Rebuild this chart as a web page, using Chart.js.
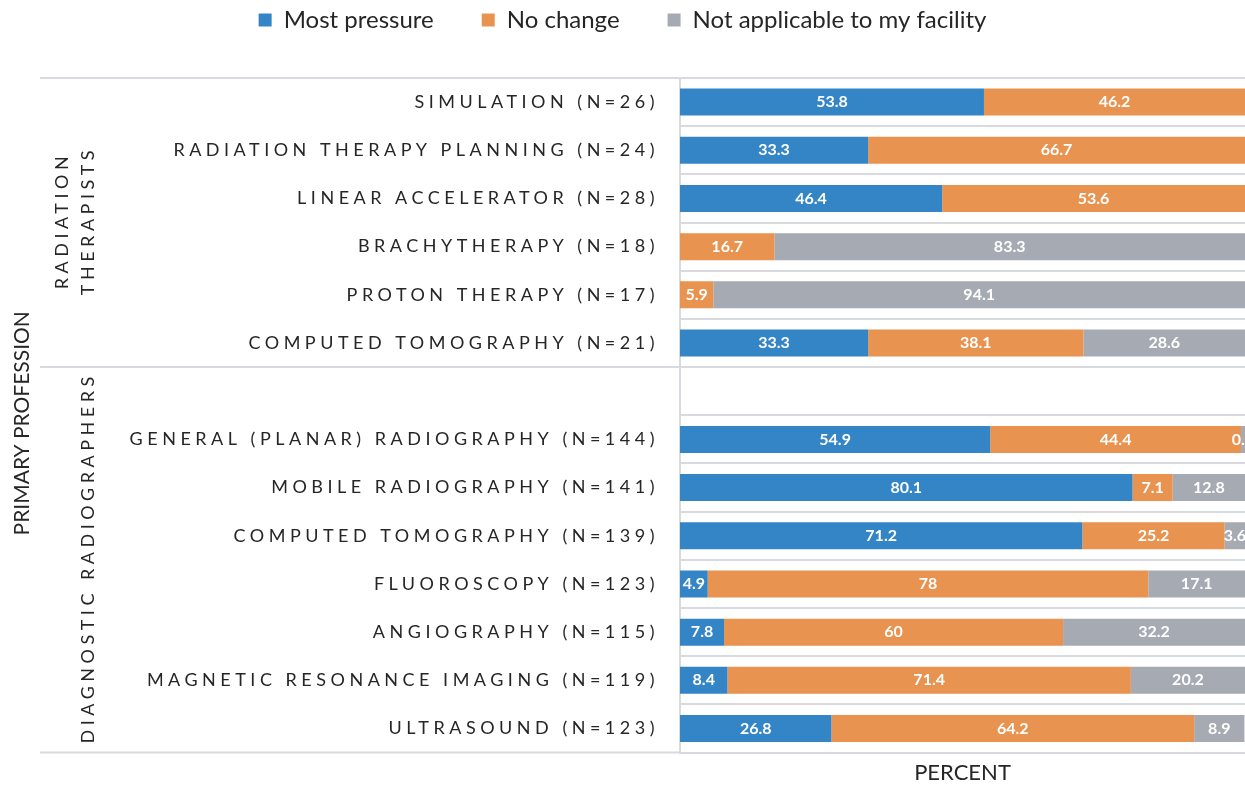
<!DOCTYPE html>
<html>
<head>
<meta charset="utf-8">
<script src="https://cdn.jsdelivr.net/npm/chart.js@4.4.1/dist/chart.umd.min.js"></script>
<style>
  html, body { margin: 0; padding: 0; background: #fff; }
  #wrap { width: 1245px; height: 786px; position: relative; }
</style>
</head>
<body>
<div id="wrap"><canvas id="myChart"></canvas></div>
<script>
const categories = [
  'SIMULATION (N=26)',
  'RADIATION THERAPY PLANNING (N=24)',
  'LINEAR ACCELERATOR (N=28)',
  'BRACHYTHERAPY (N=18)',
  'PROTON THERAPY (N=17)',
  'COMPUTED TOMOGRAPHY (N=21)',
  '',
  'GENERAL (PLANAR) RADIOGRAPHY (N=144)',
  'MOBILE RADIOGRAPHY (N=141)',
  'COMPUTED TOMOGRAPHY (N=139)',
  'FLUOROSCOPY (N=123)',
  'ANGIOGRAPHY (N=115)',
  'MAGNETIC RESONANCE IMAGING (N=119)',
  'ULTRASOUND (N=123)'
];
const mostPressure  = [53.8, 33.3, 46.4, 0, 0, 33.3, null, 54.9, 80.1, 71.2, 4.9, 7.8, 8.4, 26.8];
const noChange      = [46.2, 66.7, 53.6, 16.7, 5.9, 38.1, null, 44.4, 7.1, 25.2, 78, 60, 71.4, 64.2];
const notApplicable = [0, 0, 0, 83.3, 94.1, 28.6, null, 0.7, 12.8, 3.6, 17.1, 32.2, 20.2, 8.9];
const seriesNames = ['Most pressure', 'No change', 'Not applicable to my facility'];

// profession groups: first and last category index
const groupNames = [['RADIATION', 'THERAPISTS'], ['DIAGNOSTIC RADIOGRAPHERS']];
const groupFrom = [0, 6];
const groupTo = [5, 13];
const axisTitleY = 'PRIMARY PROFESSION';
const axisTitleX = 'PERCENT';

const colors = ['#3485c6', '#e8934f', '#a6abb3'];
const gridColor = '#d9dadf';
const textColor = '#262626';
const fontFamily = 'Lato, "Open Sans", sans-serif';

const decor = {
  id: 'decor',
  beforeLayout(chart) {
    // room between legend and plot
    const lg = chart.legend;
    if (lg && !lg._patched) {
      const fit = lg.fit;
      lg.fit = function () { fit.call(this); this.height = 78; };
      lg._patched = true;
    }
  },
  afterLayout(chart) {
    const lg = chart.legend;
    if (lg) { lg.top -= 40; lg.bottom -= 40; }
  },
  afterDatasetsDraw(chart) {
    const ctx = chart.ctx;
    ctx.save();
    ctx.font = 'bold 16px ' + fontFamily;
    ctx.fillStyle = '#fff';
    ctx.textAlign = 'center';
    ctx.textBaseline = 'middle';
    chart.data.datasets.forEach((ds, i) => {
      chart.getDatasetMeta(i).data.forEach((bar, j) => {
        const v = ds.data[j];
        if (!v) return;
        ctx.fillText(String(v), (bar.x + bar.base) / 2, bar.y);
      });
    });
    ctx.restore();
    // y tick labels are drawn after this (ticks.z = 1), spaced out
    ctx.letterSpacing = '4.5px';
  },
  afterDraw(chart) {
    const ctx = chart.ctx;
    ctx.letterSpacing = '0px';
    const ys = chart.scales.y;
    const area = chart.chartArea;
    const half = (ys.getPixelForValue(1) - ys.getPixelForValue(0)) / 2;
    const top = i => ys.getPixelForValue(i) - half;
    const bot = i => ys.getPixelForValue(i) + half;

    ctx.save();
    ctx.strokeStyle = gridColor;
    ctx.lineWidth = 2;
    [top(0), bot(groupTo[0]), bot(groupTo[1])].forEach(y => {
      ctx.beginPath();
      ctx.moveTo(40, y);
      ctx.lineTo(area.left, y);
      ctx.stroke();
    });

    ctx.fillStyle = textColor;
    ctx.textAlign = 'center';
    ctx.textBaseline = 'middle';
    ctx.font = '18px ' + fontFamily;
    ctx.letterSpacing = '4.5px';
    groupNames.forEach((lines, g) => {
      const cy = (top(groupFrom[g]) + bot(groupTo[g])) / 2;
      const xs = lines.length > 1 ? [62, 88] : [88];
      lines.forEach((t, k) => {
        ctx.save();
        ctx.translate(xs[k], cy);
        ctx.rotate(-Math.PI / 2);
        ctx.fillText(t, 2, 0);
        ctx.restore();
      });
    });

    ctx.letterSpacing = '0px';
    ctx.font = '21px ' + fontFamily;
    ctx.translate(22, (area.top + area.bottom) / 2 + 8);
    ctx.rotate(-Math.PI / 2);
    ctx.fillText(axisTitleY, 0, 0);
    ctx.restore();
  }
};

new Chart(document.getElementById('myChart').getContext('2d'), {
  type: 'bar',
  data: {
    labels: categories,
    datasets: [mostPressure, noChange, notApplicable].map((d, i) => ({
      label: seriesNames[i],
      data: d,
      backgroundColor: colors[i],
      borderWidth: 0,
      barPercentage: 0.56,
      categoryPercentage: 1
    }))
  },
  options: {
    indexAxis: 'y',
    responsive: true,
    maintainAspectRatio: false,
    animation: false,
    layout: { padding: 0 },
    scales: {
      x: {
        stacked: true,
        min: 0,
        max: 100,
        grid: { display: false, drawTicks: false },
        border: { display: false },
        ticks: { display: false },
        title: {
          display: true,
          text: axisTitleX,
          color: textColor,
          font: { family: fontFamily, size: 22 },
          padding: { top: 7, bottom: 0 }
        }
      },
      y: {
        stacked: true,
        afterFit(scale) { scale.width = 680; },
        grid: { color: gridColor, lineWidth: 2, drawTicks: false },
        border: { color: gridColor, width: 2 },
        ticks: {
          z: 1,
          autoSkip: false,
          padding: 21,
          color: textColor,
          font: { family: fontFamily, size: 18 }
        }
      }
    },
    plugins: {
      legend: {
        position: 'top',
        labels: {
          boxWidth: 13,
          boxHeight: 13,
          padding: 48,
          color: textColor,
          font: { family: fontFamily, size: 24 }
        }
      },
      tooltip: { enabled: false }
    }
  },
  plugins: [decor]
});
</script>
</body>
</html>
